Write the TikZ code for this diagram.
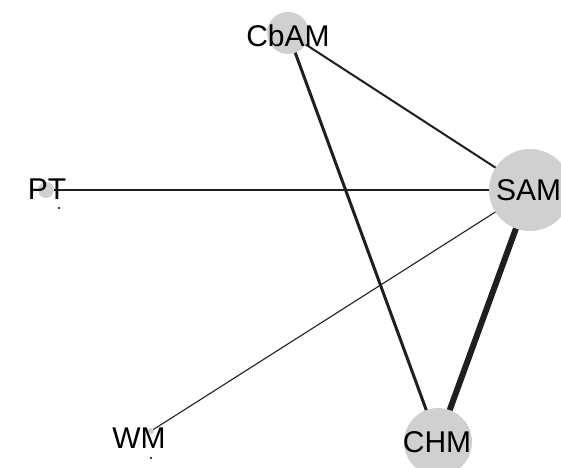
\documentclass[tikz,border=0pt]{standalone}
\usepackage{fontspec}
\setmainfont{Liberation Sans}
\begin{document}
\begin{tikzpicture}[x=1pt,y=-1pt,
  vtx/.style={circle,fill=vgray,inner sep=0pt,minimum size=#1},
  lbl/.style={font=\fontsize{30}{30}\selectfont,inner sep=0pt,text=black},
  edge/.style={line width=#1,black!88}]
\definecolor{vgray}{RGB}{208,208,208}
\useasboundingbox (0,0) rectangle (561,467);
\begin{scope}
\clip (0,0) rectangle (561,467);
% vertex centres
\coordinate (cbam) at (288,33);
\coordinate (pt) at (46,190);
\coordinate (sam) at (530,190);
\coordinate (wm) at (151,431);
\coordinate (chm) at (438,442);
% edges, centre to centre
\draw[edge=1.1pt] (pt) -- (sam);
\draw[edge=1.1pt] (wm) -- (sam);
\draw[edge=2pt] (cbam) -- (sam);
\draw[edge=3pt] (cbam) -- (chm);
\draw[edge=6pt] (sam) -- (chm);
% vertices sized by weight
\node[vtx=42pt] (cbamc) at (cbam) {};
\node[vtx=16pt] (ptc) at (pt) {};
\node[vtx=82pt] (samc) at (sam) {};
\node[vtx=6pt] (wmc) at (wm) {};
\node[vtx=68pt] (chmc) at (chm) {};
% labels
\node[lbl] (cbaml) at (288,36) {CbAM};
\node[lbl] (ptl) at (47,189) {PT};
\node[lbl,anchor=west] (saml) at (496,190) {SAM};
\node[lbl] (wml) at (139,438) {WM};
\node[lbl] (chml) at (437,442) {CHM};
% small marks beneath two labels
\fill (59,208) circle (1.1pt);
\fill (151,458) circle (1.1pt);
\end{scope}
\end{tikzpicture}
\end{document}
